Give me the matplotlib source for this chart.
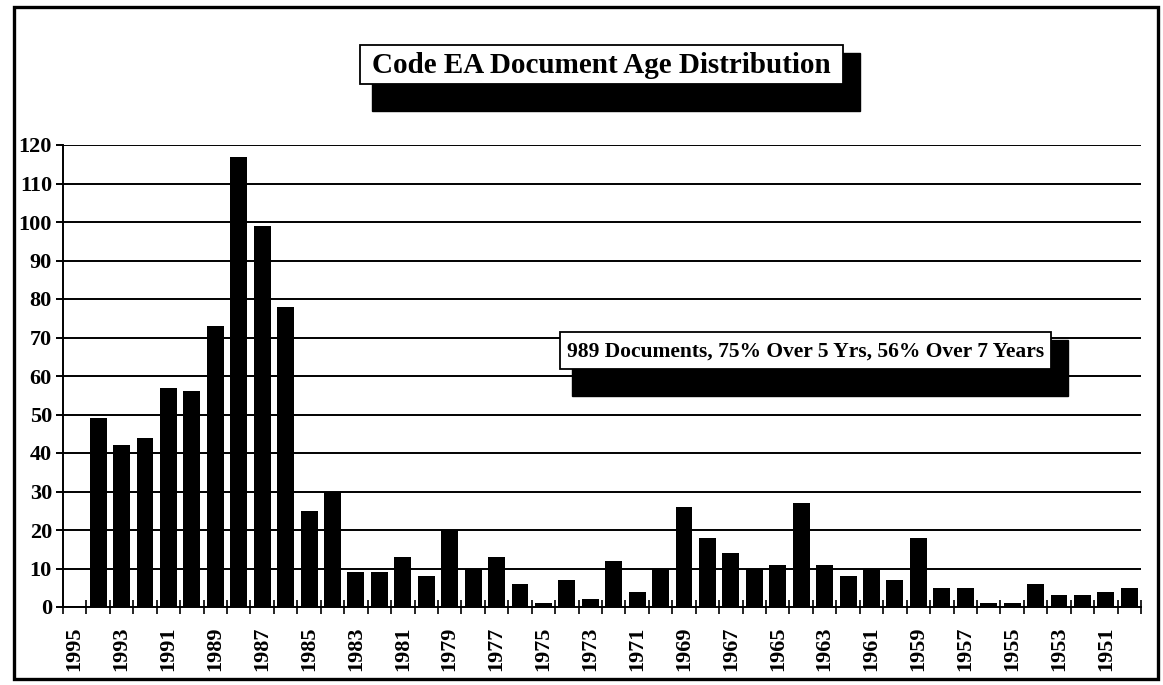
import numpy as np
import matplotlib.pyplot as plt
from matplotlib.patches import Rectangle

# ---------------------------- data ----------------------------
years = [1995, 1994, 1993, 1992, 1991, 1990, 1989, 1988, 1987, 1986,
         1985, 1984, 1983, 1982, 1981, 1980, 1979, 1978, 1977, 1976,
         1975, 1974, 1973, 1972, 1971, 1970, 1969, 1968, 1967, 1966,
         1965, 1964, 1963, 1962, 1961, 1960, 1959, 1958, 1957, 1956,
         1955, 1954, 1953, 1952, 1951, 1950]
counts = [0, 49, 42, 44, 57, 56, 73, 117, 99, 78,
          25, 30, 9, 9, 13, 8, 20, 10, 13, 6,
          1, 7, 2, 12, 4, 10, 26, 18, 14, 10,
          11, 27, 11, 8, 10, 7, 18, 5, 5, 1,
          1, 6, 3, 3, 4, 5]
y_ticks = [0, 10, 20, 30, 40, 50, 60, 70, 80, 90, 100, 110, 120]

title = "Code EA Document Age Distribution"
note = "989 Documents, 75% Over 5 Yrs, 56% Over 7 Years"

# ---------------------------- figure ----------------------------
W, H = 1163, 685
FONT = "Liberation Serif"

fig = plt.figure(figsize=(W / 100, H / 100), dpi=100)

def fx(x):
    return x / W

def fy(y):
    return 1 - y / H

# plot area in pixel coords of the reference
left, right, top, bottom = 63, 1141, 145, 607
ax = fig.add_axes([fx(left), fy(bottom), fx(right) - fx(left), fy(top) - fy(bottom)])

x = np.arange(len(years))
ax.bar(x, counts, width=0.72, color="black", zorder=3)

ax.set_xlim(-0.5, len(years) - 0.5)
ax.set_ylim(0, 120)

# horizontal gridlines
ax.set_yticks(y_ticks)
ax.yaxis.grid(True, color="black", linewidth=1.4)
ax.set_axisbelow(True)
ax.tick_params(axis="y", direction="out", length=5, width=1.4, pad=3)
for lab in ax.get_yticklabels():
    lab.set_fontfamily(FONT)
    lab.set_fontweight("bold")
    lab.set_fontsize(16)

# x ticks at category boundaries, labels on every other year
ax.set_xticks(np.arange(len(years) + 1) - 0.5)
ax.set_xticklabels([])
ax.tick_params(axis="x", which="major", direction="inout", length=10, width=1.2)
ax.set_xticks(x, minor=True)
ax.set_xticklabels([str(y) if y % 2 else "" for y in years], minor=True,
                   rotation=90, fontfamily=FONT, fontweight="bold", fontsize=16)
ax.tick_params(axis="x", which="minor", length=0, pad=14)

for side in ["top", "right"]:
    ax.spines[side].set_visible(False)
ax.spines["left"].set_linewidth(1.4)
ax.spines["bottom"].set_linewidth(1.4)

# ---------------------------- boxes ----------------------------
def shadow_box(x0, y0, x1, y1, text, size):
    # black drop shadow then white framed box
    fig.add_artist(Rectangle((fx(x0 + 12), fy(y1 + 27)), fx(x1 + 17) - fx(x0 + 12),
                             fy(y0 + 8) - fy(y1 + 27), transform=fig.transFigure,
                             facecolor="black", edgecolor="black", zorder=5))
    fig.add_artist(Rectangle((fx(x0), fy(y1)), fx(x1) - fx(x0), fy(y0) - fy(y1),
                             transform=fig.transFigure, facecolor="white",
                             edgecolor="black", linewidth=1.3, zorder=6))
    fig.text(fx((x0 + x1) / 2), fy((y0 + y1) / 2 + 1), text, ha="center", va="center",
             fontfamily=FONT, fontweight="bold", fontsize=size, zorder=7)

shadow_box(360, 45, 843, 84, title, 21)
shadow_box(560, 332, 1051, 369, note, 15.5)

# outer frame
fig.add_artist(Rectangle((fx(14), fy(679)), fx(1158) - fx(14), fy(7) - fy(679),
                         transform=fig.transFigure, fill=False, edgecolor="black",
                         linewidth=2.4, zorder=8))

plt.savefig("out.png", dpi=100)
